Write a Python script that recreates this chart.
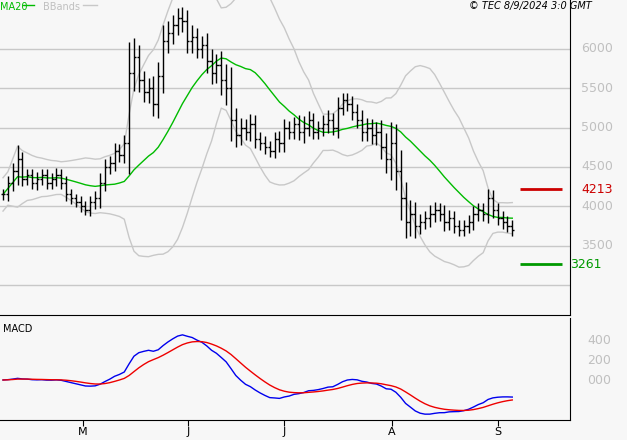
import numpy as np, pandas as pd, seaborn as sns, matplotlib
matplotlib.use("Agg")
import matplotlib.pyplot as plt

closes = [4150,4300,4450,4600,
 4350,4400,4300,4350,4400,4300,4350,4400,4300,
 4150,4100,4050,4000,3950,4050,4100,
 4300,4500,4550,4700,4650,4800,
 5700,5900,5600,5450,5500,5300,
 5650,6100,6200,6300,6400,6350,6100,
 6150,6000,6050,5850,5700,
 5800,5600,5500,5100,
 4900,5000,4950,5050,4850,4800,4750,4700,4850,4800,
 5000,4950,5050,4950,5000,5100,4950,5000,5050,5100,5000,5250,
 5350,5300,5200,5100,4950,
 5000,4900,4950,4750,4600,4800,
 4450,4100,3800,3900,
 3750,3800,3850,3900,3950,3900,3800,3850,3750,
 3700,3750,3800,3900,3950,3900,
 4100,3950,3850,3800,3750,3700]
ranges = [250,300,350,600, 300,250,250,300,250,250,250,300,250,
 300,250,200,250,200,250,300, 400,350,300,350,300,350,
 1300,800,500,400,450,500, 600,700,500,450,400,450,500,
 500,400,400,500,500, 450,600,700,900,
 500,400,350,400,350,300,300,250,300,350,
 350,300,300,350,500,350,300,300,350,400,300,450,
 300,300,350,350,400, 400,350,400,500,600,900,
 800,900,700,600, 500,350,300,400,350,300,400,350,300,
 250,250,300,350,300,300, 400,350,300,300,250,250]
resistance, support = 4213, 3261
month_labels = ["M","J","J","A","S"]
month_pos = [16.5,38.1,57.9,80.2,102]

n = len(closes)
idx = np.arange(n)
c = pd.Series(closes, dtype=float)
o = c.shift(1).fillna(c.iloc[0])
hi = np.maximum(o, c) + np.array(ranges)*0.3
lo = np.minimum(o, c) - np.array(ranges)*0.3
ma = c.rolling(20, min_periods=1).mean()
sd = c.rolling(20, min_periods=2).std().bfill()
up, dn = ma + 2*sd, ma - 2*sd
macd = c.ewm(span=12).mean() - c.ewm(span=26).mean()
sig = macd.ewm(span=9).mean()

bg = "#f7f7f7"
fig = plt.figure(figsize=(6.27,4.4), dpi=100, facecolor=bg)
ax = fig.add_axes([0, 125/440, 570/627, 315/440], facecolor=bg)
ax2 = fig.add_axes([0, 20/440, 570/627, 102/440], facecolor=bg)
xl = (-0.62, 116.9)

for y in [3000,3500,4000,4500,5000,5500,6000]:
    ax.axhline(y, color="#c8c8c8", lw=1, zorder=0)
    if y > 3000:
        ax.text(1.02, y, str(y), transform=ax.get_yaxis_transform(), color="#c0c0c0", fontsize=9, va="center")
df = pd.DataFrame({"i": idx, "ma": ma, "up": up, "dn": dn, "macd": macd, "sig": sig})
sns.lineplot(data=df, x="i", y="up", ax=ax, color="#c8c8c8", lw=1)
sns.lineplot(data=df, x="i", y="dn", ax=ax, color="#c8c8c8", lw=1)
sns.lineplot(data=df, x="i", y="ma", ax=ax, color="#00bb00", lw=1)
ax.vlines(idx, lo, hi, color="black", lw=1)
ax.hlines(o, idx-0.45, idx, color="black", lw=1)
ax.hlines(c, idx, idx+0.45, color="black", lw=1)
ax.hlines(resistance, 106.6, 115.2, color="#cc0000", lw=2)
ax.hlines(support, 106.6, 115.2, color="#009900", lw=2)
ax.text(1.02, resistance, str(resistance), transform=ax.get_yaxis_transform(), color="#cc0000", fontsize=9, va="center")
ax.text(1.0, support, str(support), transform=ax.get_yaxis_transform(), color="#009900", fontsize=9, va="center")
ax.set_xlim(*xl); ax.set_ylim(2616, 6623)
ax.text(0.0, 0.995, "MA20", transform=ax.transAxes, color="#00bb00", fontsize=7, va="top")
ax.plot([0.04,0.06],[0.983,0.983], transform=ax.transAxes, color="#00bb00", lw=1)
ax.text(0.075, 0.995, "BBands", transform=ax.transAxes, color="#c0c0c0", fontsize=7, va="top")
ax.plot([0.145,0.17],[0.983,0.983], transform=ax.transAxes, color="#c8c8c8", lw=1)
ax.text(0.93, 0.997, "© TEC 8/9/2024 3:0 GMT", transform=ax.transAxes, fontsize=7, style="italic", va="top", ha="center")

sns.lineplot(data=df, x="i", y="macd", ax=ax2, color="#0000ee", lw=1)
sns.lineplot(data=df, x="i", y="sig", ax=ax2, color="#ee0000", lw=1)
for y in [0,200,400]:
    ax2.text(1.03, y, f"{y:03d}" if y==0 else str(y), transform=ax2.get_yaxis_transform(), color="#c0c0c0", fontsize=9, va="center")
ax2.set_xlim(*xl); ax2.set_ylim(-400, 620)
ax2.text(0.005, 0.94, "MACD", transform=ax2.transAxes, fontsize=7, va="top")
ax2.set_xticks(month_pos); ax2.set_xticklabels(month_labels, fontsize=8)
ax2.tick_params(axis="x", length=4, pad=1)
for a in (ax, ax2):
    a.set_yticks([]); a.set_xlabel(""); a.set_ylabel("")
    for s in ["left","top"]: a.spines[s].set_visible(False)
ax.set_xticks([])
ax.spines["bottom"].set_color("black")
fig.savefig("out.png", dpi=100, facecolor=bg)
